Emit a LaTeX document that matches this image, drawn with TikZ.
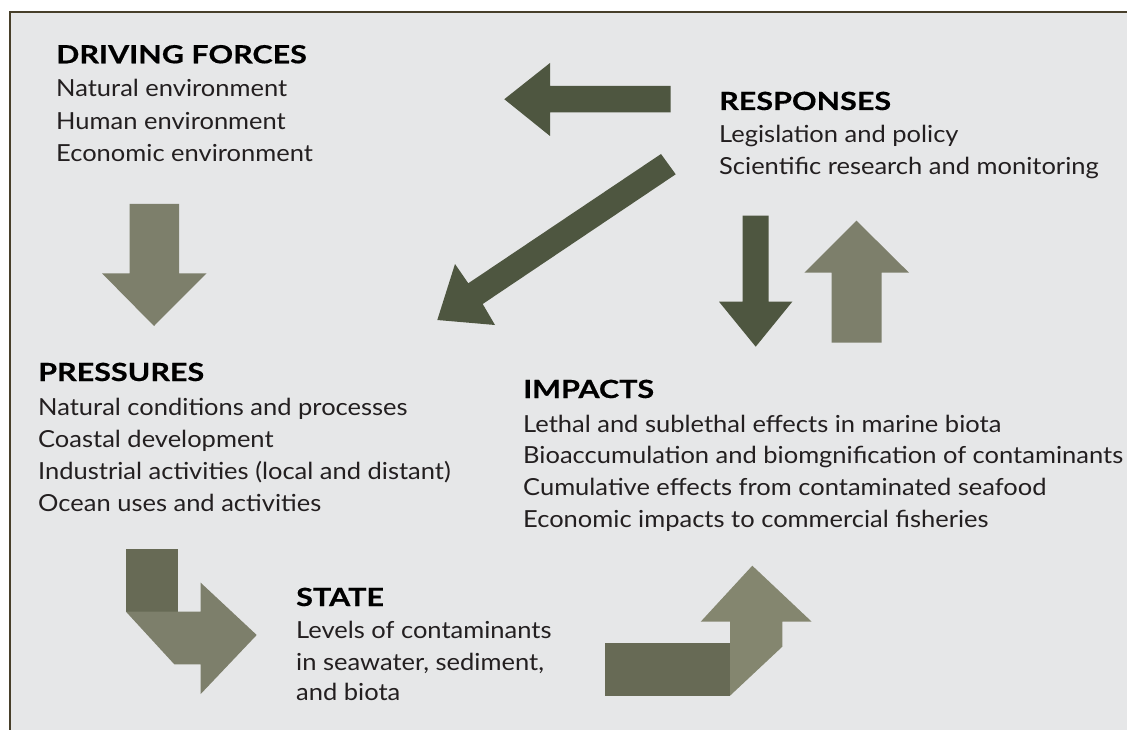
\documentclass[tikz,border=0pt]{standalone}
\usepackage{fontspec}
\setmainfont{Lato}[FakeStretch=1.085]
\newfontfamily\headfont{Lato}[FakeStretch=1.22, BoldFeatures={FakeBold=0.5}]
\definecolor{bg}{HTML}{E6E7E8}
\definecolor{frame}{HTML}{473F2A}
\definecolor{lightarr}{HTML}{7D7F6B}
\definecolor{lightarrb}{HTML}{84866F}
\definecolor{darkarr}{HTML}{4E5640}
\definecolor{midarr}{HTML}{676A55}
\definecolor{ink}{HTML}{231F20}
\tikzset{
  head/.style={anchor=base west, inner sep=0pt, text=black, font=\fontsize{25}{30}\headfont\bfseries},
  item/.style={anchor=base west, inner sep=0pt, text=ink, font=\fontsize{23.5}{28}\selectfont},
}
\begin{document}
\begin{tikzpicture}[x=1pt,y=-1pt]
\useasboundingbox (0,0) rectangle (1127,730);
% background and frame
\fill[white] (0,0) rectangle (1127,730);
\fill[bg] (9.5,12.5) rectangle (1127,730);
\draw[frame, line width=2pt] (9.5,730) -- (9.5,12.5) -- (1127,12.5);

% arrows
\fill[lightarr] (129.5,204) -- (179,204) -- (179,273.3) -- (206.5,273.3) -- (154,326) -- (102,273.3) -- (129.5,273.3) -- cycle;
\fill[darkarr] (670.7,86) -- (670.7,112.3) -- (550,112.3) -- (550,136) -- (504.3,99.2) -- (550,63) -- (550,86) -- cycle;
\fill[darkarr] (661,154) -- (675.7,174.3) -- (482.7,304) -- (495,325) -- (437.3,320) -- (455,264) -- (468.3,283.3) -- cycle;
\fill[darkarr] (742.7,215.7) -- (768.7,215.7) -- (768.7,301.7) -- (792.3,301.7) -- (755.7,346.7) -- (719,301.7) -- (742.7,301.7) -- cycle;
\fill[lightarr] (831.7,342.7) -- (881.7,342.7) -- (881.7,272.7) -- (909,272.7) -- (856.5,220.7) -- (804.3,272.7) -- (831.7,272.7) -- cycle;
% bent arrow pressures -> state
\fill[midarr] (126,549.3) rectangle (178.3,611.7);
\fill[lightarr] (126,611.7) -- (200.7,611.7) -- (200.7,582.7) -- (256.7,635) -- (200.7,694) -- (200.7,664.3) -- (174.3,664.3) -- cycle;
% bent arrow state -> impacts
\fill[midarr] (605,643.3) rectangle (730,695.7);
\fill[lightarrb] (730,695.7) -- (730,621.7) -- (700.7,621.7) -- (752.3,565.7) -- (811.7,621.7) -- (782.3,621.7) -- (782.3,646.7) -- cycle;

% texts
\node[head] (dfh) at (56,63.3) {DRIVING FORCES};
\node[item] (df1) at (56,96.7) {Natural environment};
\node[item] (df2) at (56,130) {Human environment};
\node[item] (df3) at (56,161.7) {Economic environment};

\node[head] (rsh) at (719,110) {RESPONSES};
\node[item] (rs1) at (719,143) {Legislation and policy};
\node[item] (rs2) at (719,175) {Scientific research and monitoring};

\node[head] (prh) at (38,381) {PRESSURES};
\node[item] (pr1) at (38,415) {Natural conditions and processes};
\node[item] (pr2) at (38,447) {Coastal development};
\node[item] (pr3) at (38,479) {Industrial activities (local and distant)};
\node[item] (pr4) at (38,511) {Ocean uses and activities};

\node[head] (imh) at (523,398) {IMPACTS};
\node[item] (im1) at (523,432) {Lethal and sublethal effects in marine biota};
\node[item] (im2) at (523,463) {Bioaccumulation and biomgnification of contaminants};
\node[item] (im3) at (523,495) {Cumulative effects from contaminated seafood};
\node[item] (im4) at (523,527) {Economic impacts to commercial fisheries};

\node[head] (sth) at (296,606) {STATE};
\node[item] (st1) at (296,638.3) {Levels of contaminants};
\node[item] (st2) at (296,670) {in seawater, sediment,};
\node[item] (st3) at (296,700) {and biota};
\end{tikzpicture}
\end{document}
